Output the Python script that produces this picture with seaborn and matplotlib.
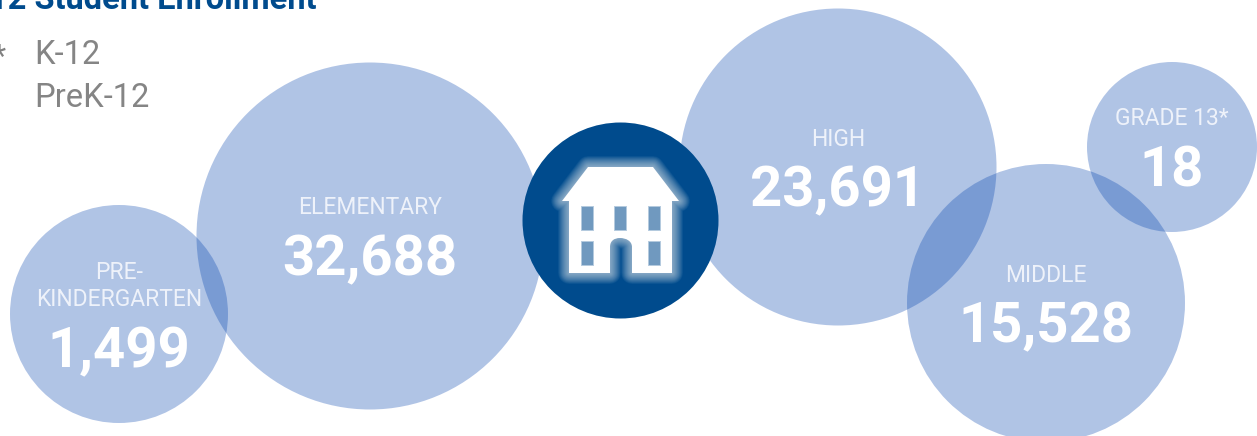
import matplotlib
matplotlib.use("Agg")
import matplotlib.pyplot as plt
import pandas as pd
import seaborn as sns
from matplotlib.patches import PathPatch, Rectangle
from matplotlib.path import Path

# enrollment by level
levels = ["PRE-\nKINDERGARTEN", "ELEMENTARY", "HIGH", "MIDDLE", "GRADE 13*"]
enrollment = [1499, 32688, 23691, 15528, 18]

# bubble layout in pixels of the 1257x436 picture
bubble_x = [119, 370, 838, 1046, 1172]
bubble_y = [314, 236, 167, 303, 147]
bubble_r = [109, 173.5, 158.5, 139, 85]
label_y = [286, 207, 139, 275, 118]
number_y = [352, 260, 191, 327, 171]

legend_items = ["K-12", "PreK-12"]
title = "12 Student Enrollment"

BLUE = "#004b8d"
BUBBLE = (0, 65 / 255, 174 / 255)
DPI = 100


def px_size(r):
    """Scatter size (pt^2) for a circle of radius r pixels."""
    return (2 * r * 72 / DPI) ** 2


def house_path():
    """House outline with the door notch."""
    verts = [(588, 167), (653, 167), (679, 201), (672, 201), (672, 273), (632, 273), (632, 247),
             (632, 241), (626, 238), (620, 238), (614, 238), (610, 241), (610, 247),
             (610, 273), (569, 273), (569, 201), (562, 201), (588, 167)]
    codes = [Path.MOVETO] + [Path.LINETO] * 6 + [Path.CURVE4] * 6 + [Path.LINETO] * 4 + [Path.CLOSEPOLY]
    return Path(verts, codes)


sns.set_theme(style="white")
plt.rcParams["font.family"] = ["Roboto", "DejaVu Sans"]

df = pd.DataFrame({"x": bubble_x, "y": bubble_y, "level": levels, "n": enrollment})
sizes = {n: px_size(r) for n, r in zip(enrollment, bubble_r)}

fig = plt.figure(figsize=(12.57, 4.36), dpi=DPI)
ax = fig.add_axes([0, 0, 1, 1])

sns.scatterplot(data=df, x="x", y="y", size="n", sizes=sizes, color=BUBBLE, alpha=0.31,
                linewidth=0, legend=False, ax=ax, clip_on=False)
sns.scatterplot(x=[620], y=[220], s=px_size(98), color=BLUE, linewidth=0, legend=False, ax=ax, zorder=3)

ax.set_xlim(0, 1257)
ax.set_ylim(436, 0)
ax.axis("off")

# house icon, glow is a stack of soft strokes
path = house_path()
for lw in range(22, 0, -1):
    ax.add_patch(PathPatch(path, fill=False, edgecolor="white", linewidth=lw * 72 / DPI, alpha=0.035,
                           joinstyle="round", zorder=4))
ax.add_patch(PathPatch(path, facecolor="white", edgecolor="none", zorder=5))
for wx, wy in [(581, 206), (614, 206), (648, 206), (581, 241), (648, 241)]:
    ax.add_patch(Rectangle((wx, wy), 12, 24, facecolor="#7099bf", edgecolor="#b4cade", linewidth=0.7, zorder=6))

for x, ly, ny, level, n in zip(bubble_x, label_y, number_y, levels, enrollment):
    ax.text(x, ly, level, color="#eef2fa", fontsize=16.5, ha="center", va="center",
            linespacing=1.2, zorder=7)
    ax.text(x, ny, f"{n:,}", color="white", fontsize=40.5, fontweight="bold", ha="center", va="center", zorder=7)

ax.text(-11, 9, title, color=BLUE, fontsize=23.5, fontweight="bold", ha="left", va="baseline")
ax.text(-7, 57, "*", color="#808080", fontsize=22, ha="left", va="center")
for y, item in zip([55, 98], legend_items):
    ax.text(34, y, item, color="#858585", fontsize=23.5, ha="left", va="center")

fig.savefig("out.png", dpi=DPI, facecolor="white")
